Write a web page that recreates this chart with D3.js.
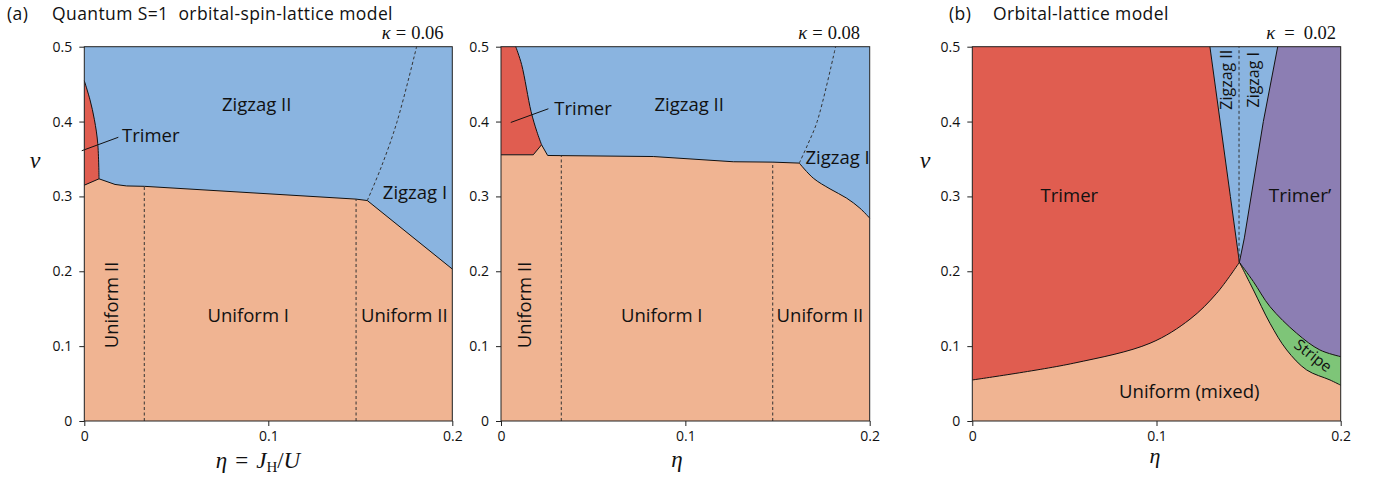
<!DOCTYPE html>
<html>
<head>
<meta charset="utf-8">
<script src="https://cdn.jsdelivr.net/npm/d3@7"></script>
<style>
  body { margin: 0; background: #fff; }
  text { font-family: "Open Sans", sans-serif; fill: #111; }
  .serif { font-family: "Liberation Serif", "DejaVu Serif", serif; }
</style>
</head>
<body>
<div id="chart"></div>
<script>
// axis ticks
const etaTicks = [0, 0.1, 0.2];
const nuTicks = [0, 0.1, 0.2, 0.3, 0.4, 0.5];

// panel (a) left, kappa = 0.06  -- points are [eta, nu]
const aUniformTop = [[0, 0.315], [0.008, 0.3235], [0.0167, 0.316], [0.023, 0.314], [0.0326, 0.3135],
  [0.1477, 0.2964], [0.1538, 0.2945], [0.2, 0.203]];
const aTrimerEdge = [[0, 0.4545], [0.0031, 0.429], [0.0055, 0.4024], [0.0073, 0.371], [0.008, 0.3235]];
const aTrimerBottom = [[0, 0.315], [0.008, 0.3235]];
const aZigzagDash = [[0.1538, 0.2945], [0.1615, 0.34], [0.170, 0.4], [0.1806, 0.5]];
const aUniformDash = [[0.0326, 0.3135], [0.1477, 0.2964]];

// panel (a) right, kappa = 0.08
const bUniformTop = [[0, 0.3556], [0.0175, 0.3556], [0.022, 0.369], [0.0253, 0.3547], [0.0325, 0.3545],
  [0.0826, 0.3533], [0.126, 0.3463], [0.1474, 0.3458], [0.1618, 0.3445]];
const bZigzagIEdge = [[0.1618, 0.3445], [0.1694, 0.3244], [0.1785, 0.310], [0.1875, 0.2977],
  [0.1947, 0.2843], [0.2, 0.271]];
const bTrimerEdge = [[0.008, 0.5], [0.0112, 0.476], [0.0163, 0.4135], [0.0194, 0.387], [0.022, 0.369]];
const bTrimerBottom = [[0, 0.3556], [0.0175, 0.3556], [0.022, 0.369]];
const bZigzagDash = [[0.1618, 0.3445], [0.1665, 0.37], [0.1715, 0.4], [0.1815, 0.5]];
const bUniformDash = [[0.0327, 0.3545], [0.1474, 0.3458]];

// panel (b), kappa = 0.02
const cTrimerZigzag = [[0.129, 0.5], [0.1401, 0.3], [0.145, 0.212]];
const cZigzagTrimerP = [[0.1658, 0.5], [0.158, 0.4], [0.1477, 0.2446], [0.145, 0.212]];
const cZigzagDash = [[0.1448, 0.212], [0.1448, 0.5]];
const cTrimerUniform = [[0, 0.0548], [0.0548, 0.0771], [0.0965, 0.1039], [0.1182, 0.136],
  [0.1327, 0.1707], [0.145, 0.212]];
const cStripeTop = [[0.145, 0.212], [0.1526, 0.1862], [0.1616, 0.1528], [0.1761, 0.1172],
  [0.1887, 0.0949], [0.2, 0.086]];
const cStripeBottom = [[0.145, 0.212], [0.1526, 0.1751], [0.1616, 0.1306], [0.1707, 0.0949],
  [0.1815, 0.0682], [0.1942, 0.0548], [0.2, 0.0478]];

const col = {
  uniform: '#f0b492', zigzag: '#8ab4e0', trimer: '#e05d50', trimerP: '#8c7eb3', stripe: '#7ec578'
};

const W = 1375, H = 477;
const svg = d3.select('#chart').append('svg').attr('width', W).attr('height', H);

const lin = d3.curveLinear;
const smooth = d3.curveCatmullRom.alpha(0.5);

function makePanel(left, right) {
  const x = d3.scaleLinear().domain([0, 0.2]).range([left, right]);
  const y = d3.scaleLinear().domain([0, 0.5]).range([421, 46.7]);
  const g = svg.append('g');
  return { x, y, g };
}

// build one closed shape out of several boundary pieces
function shape(p, segs) {
  return segs.map(([pts, c], i) => {
    const d = d3.line().x(d => p.x(d[0])).y(d => p.y(d[1])).curve(c)(pts);
    return i ? 'L' + d.slice(1) : d;
  }).join('') + 'Z';
}

function fill(p, segs, color) {
  p.g.append('path').attr('d', shape(p, segs)).attr('fill', color).attr('stroke', 'none');
}

function edge(p, pts, c, dashed) {
  p.g.append('path')
    .attr('d', d3.line().x(d => p.x(d[0])).y(d => p.y(d[1])).curve(c || lin)(pts))
    .attr('fill', 'none')
    .attr('stroke', dashed ? '#333' : '#111')
    .attr('stroke-width', 1)
    .attr('stroke-dasharray', dashed ? '3,2.5' : null);
}

function vdash(p, list) {
  list.forEach(([x0, top]) => edge(p, [[x0, 0], [x0, top]], lin, true));
}

function rect(p, color) {
  fill(p, [[[[0, 0], [0, 0.5], [0.2, 0.5], [0.2, 0]], lin]], color);
}

function label(p, txt, x0, y0, opts = {}) {
  const t = p.g.append('text')
    .attr('x', p.x(x0)).attr('y', p.y(y0)).attr('dy', '0.36em')
    .attr('text-anchor', opts.anchor || 'middle')
    .attr('font-size', opts.size || 18.5)
    .text(txt);
  if (opts.rot) t.attr('transform', `rotate(${opts.rot},${p.x(x0)},${p.y(y0)})`);
}

function axes(p) {
  p.g.append('rect')
    .attr('x', p.x(0)).attr('y', p.y(0.5))
    .attr('width', p.x(0.2) - p.x(0)).attr('height', p.y(0) - p.y(0.5))
    .attr('fill', 'none').attr('stroke', '#222').attr('stroke-width', 1);
  const xa = p.g.append('g').attr('transform', `translate(0,${p.y(0)})`)
    .call(d3.axisBottom(p.x).tickValues(etaTicks).tickFormat(d => String(d)).tickSize(5).tickSizeOuter(0).tickPadding(5));
  const ya = p.g.append('g').attr('transform', `translate(${p.x(0)},0)`)
    .call(d3.axisLeft(p.y).tickValues(nuTicks).tickFormat(d => String(d)).tickSize(5).tickSizeOuter(0).tickPadding(7));
  [xa, ya].forEach(a => {
    a.select('.domain').remove();
    a.selectAll('line').attr('stroke', '#222');
    a.selectAll('text').attr('font-size', 14).attr('font-family', '"Open Sans", sans-serif').attr('fill', '#111');
  });
}

function kappa(p, val, xr, gap) {
  p.g.append('text').attr('class', 'serif')
    .attr('x', xr).attr('y', 39).attr('text-anchor', 'end').attr('font-size', 18.5)
    .html(`<tspan font-style="italic">κ</tspan><tspan dx="${gap}">=</tspan><tspan dx="${gap}">${val}</tspan>`);
}

function nuLabel(p, xc) {
  p.g.append('text').attr('class', 'serif')
    .attr('x', xc).attr('y', 168).attr('text-anchor', 'middle')
    .attr('font-size', 24).attr('font-style', 'italic').text('ν');
}

// ---------- panel (a) left ----------
const pa = makePanel(84.3, 452.3);
rect(pa, col.zigzag);
fill(pa, [[aUniformTop, lin], [[[0.2, 0], [0, 0]], lin]], col.uniform);
fill(pa, [[aTrimerEdge, smooth], [aTrimerBottom.slice().reverse(), lin]], col.trimer);
edge(pa, aUniformTop);
edge(pa, aTrimerEdge, smooth);
edge(pa, aZigzagDash, smooth, true);
vdash(pa, aUniformDash);
edge(pa, [[-0.0014, 0.361], [0.0185, 0.379]]);
label(pa, 'Zigzag II', 0.0937, 0.4225);
label(pa, 'Trimer', 0.0205, 0.382, { anchor: 'start' });
label(pa, 'Zigzag I', 0.1797, 0.3057);
label(pa, 'Uniform I', 0.0891, 0.1408);
label(pa, 'Uniform II', 0.1739, 0.1408);
label(pa, 'Uniform II', 0.0145, 0.155, { rot: -90 });
axes(pa);
kappa(pa, '0.06', 443.5, 5);
nuLabel(pa, 35);
pa.g.append('text').attr('class', 'serif')
  .attr('x', 258).attr('y', 468).attr('text-anchor', 'middle').attr('font-size', 23)
  .html('<tspan font-style="italic">η</tspan><tspan dx="8">=</tspan><tspan dx="8" font-style="italic">J</tspan><tspan font-size="15" dy="4">H</tspan><tspan dy="-4">/</tspan><tspan font-style="italic">U</tspan>');

// ---------- panel (a) right ----------
const pb = makePanel(501, 869.7);
rect(pb, col.zigzag);
fill(pb, [[bUniformTop, lin], [bZigzagIEdge, smooth], [[[0.2, 0], [0, 0]], lin]], col.uniform);
fill(pb, [[[[0, 0.5], [0.008, 0.5]], lin], [bTrimerEdge, smooth], [bTrimerBottom.slice().reverse(), lin]], col.trimer);
edge(pb, bUniformTop);
edge(pb, bZigzagIEdge, smooth);
edge(pb, bTrimerEdge, smooth);
edge(pb, bZigzagDash, smooth, true);
vdash(pb, bUniformDash);
edge(pb, [[0.0053, 0.3988], [0.0257, 0.4171]]);
label(pb, 'Trimer', 0.0289, 0.418, { anchor: 'start' });
label(pb, 'Zigzag II', 0.1021, 0.4234);
label(pb, 'Zigzag I', 0.1826, 0.3525);
label(pb, 'Uniform I', 0.0872, 0.1408);
label(pb, 'Uniform II', 0.173, 0.1408);
label(pb, 'Uniform II', 0.0125, 0.155, { rot: -90 });
axes(pb);
kappa(pb, '0.08', 860, 5);
pb.g.append('text').attr('class', 'serif')
  .attr('x', 677).attr('y', 467).attr('text-anchor', 'middle').attr('font-size', 23)
  .attr('font-style', 'italic').text('η');

// ---------- panel (b) ----------
const pc = makePanel(972.3, 1340.7);
rect(pc, col.uniform);
fill(pc, [[[[0, 0.5]], lin], [cTrimerZigzag, lin], [cTrimerUniform.slice().reverse(), smooth]], col.trimer);
fill(pc, [[cZigzagTrimerP, lin], [cTrimerZigzag.slice().reverse(), lin]], col.zigzag);
fill(pc, [[[[0.1658, 0.5], [0.2, 0.5]], lin], [cStripeTop.slice().reverse(), smooth], [cZigzagTrimerP.slice().reverse(), lin]], col.trimerP);
fill(pc, [[cStripeTop, smooth], [cStripeBottom.slice().reverse(), smooth]], col.stripe);
edge(pc, cTrimerZigzag);
edge(pc, cZigzagTrimerP);
edge(pc, cTrimerUniform, smooth);
edge(pc, cStripeTop, smooth);
edge(pc, cStripeBottom, smooth);
edge(pc, cZigzagDash, lin, true);
label(pc, 'Trimer', 0.0527, 0.3021);
label(pc, 'Trimer’', 0.1779, 0.3021, { size: 19 });
label(pc, 'Zigzag II', 0.1381, 0.4559, { rot: -90, size: 16 });
label(pc, 'Zigzag I', 0.1526, 0.4559, { rot: -90, size: 16 });
label(pc, 'Uniform (mixed)', 0.1178, 0.0401);
label(pc, 'Stripe', 0.1851, 0.0875, { rot: 38, size: 15.5 });
axes(pc);
kappa(pc, '0.02', 1336, 9);
nuLabel(pc, 925);
pc.g.append('text').attr('class', 'serif')
  .attr('x', 1155).attr('y', 463).attr('text-anchor', 'middle').attr('font-size', 22)
  .attr('font-style', 'italic').text('η');

// titles
svg.append('text').attr('x', 7).attr('y', 19.5).attr('font-size', 17.5).attr('letter-spacing', 0.4).text('(a)');
svg.append('text').attr('x', 52).attr('y', 19.5).attr('font-size', 17.5).attr('letter-spacing', 0.4)
  .style('white-space', 'pre')
  .text('Quantum S=1  orbital-spin-lattice model');
svg.append('text').attr('x', 949).attr('y', 19.5).attr('font-size', 17.5).attr('letter-spacing', 0.4).text('(b)');
svg.append('text').attr('x', 993).attr('y', 19.5).attr('font-size', 17.5).attr('letter-spacing', 0.4).text('Orbital-lattice model');
</script>
</body>
</html>
